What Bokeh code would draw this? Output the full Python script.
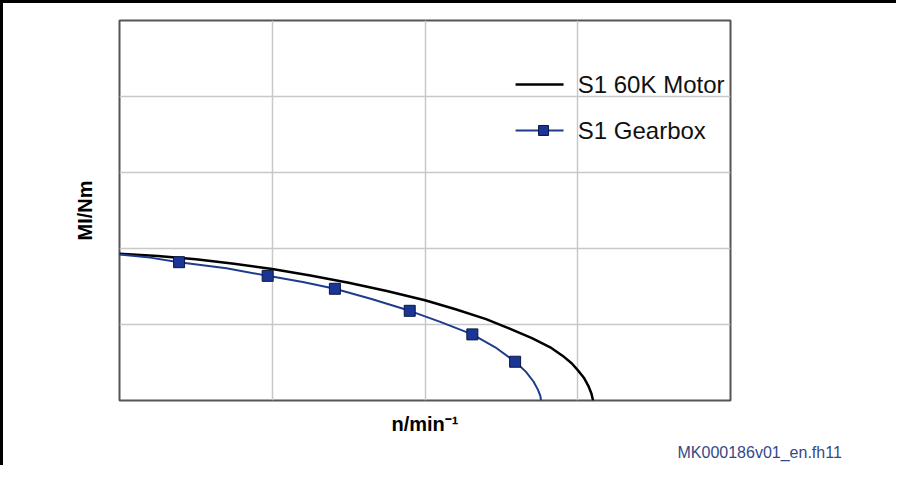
from bokeh.plotting import figure
from bokeh.models import Range1d, FixedTicker, Label, Title
from bokeh.embed import file_html
from bokeh.resources import INLINE

# S1 60K Motor curve (speed in grid units, torque in grid units)
motor_x = [0.0, 0.25, 0.5, 0.75, 1.0, 1.25, 1.5, 1.75, 2.0, 2.2, 2.4, 2.55, 2.7, 2.82,
           2.9, 2.96, 3.0, 3.04, 3.07, 3.09, 3.1]
motor_y = [1.93, 1.90, 1.86, 1.80, 1.73, 1.645, 1.55, 1.44, 1.32, 1.20, 1.07, 0.95, 0.82,
           0.70, 0.59, 0.49, 0.40, 0.30, 0.19, 0.09, 0.0]

# S1 Gearbox curve
gear_x = [0.0, 0.2, 0.39, 0.7, 0.97, 1.2, 1.41, 1.65, 1.90, 2.1, 2.31, 2.46, 2.59, 2.66,
          2.71, 2.74, 2.755, 2.76]
gear_y = [1.92, 1.88, 1.82, 1.74, 1.64, 1.56, 1.47, 1.335, 1.18, 1.035, 0.87, 0.70, 0.51,
          0.38, 0.25, 0.14, 0.06, 0.0]

# Gearbox markers
mark_x = [0.39, 0.97, 1.41, 1.90, 2.31, 2.59]
mark_y = [1.82, 1.64, 1.47, 1.18, 0.87, 0.51]

x_grid = [0, 1, 2, 3, 4]
y_grid = [0, 1, 2, 3, 4, 5]

legend_labels = ["S1 60K Motor", "S1 Gearbox"]
x_label = "n/min\u207b\u00b9"
y_label = "MI/Nm"
footer = "MK000186v01_en.fh11"

BLUE = "#1e3c8c"
FONT = "Liberation Sans"

p = figure(width=896, height=465, output_backend="svg", toolbar_location=None,
           x_range=Range1d(0, 4), y_range=Range1d(0, 5),
           min_border_left=116, min_border_right=169,
           min_border_top=17, min_border_bottom=68)
p.styles = {"border-top": "3px solid black", "border-left": "3px solid black"}

for ax in (p.xaxis[0], p.yaxis[0]):
    ax.ticker = FixedTicker(ticks=[])
    ax.axis_line_color = None
    ax.major_tick_line_color = None
    ax.minor_tick_line_color = None
    ax.major_tick_out = 0
    ax.major_tick_in = 0
    ax.minor_tick_out = 0
    ax.major_label_standoff = 0
    ax.axis_label_text_font = FONT
    ax.axis_label_text_font_size = "20px"
    ax.axis_label_text_font_style = "bold"
    ax.axis_label_text_color = "black"
p.yaxis.axis_label = y_label
p.yaxis.axis_label_standoff = 24
p.xaxis.axis_label = x_label
p.xaxis.axis_label_standoff = 12

p.xgrid.ticker = FixedTicker(ticks=x_grid)
p.ygrid.ticker = FixedTicker(ticks=y_grid)
for g in (p.xgrid, p.ygrid):
    g.grid_line_color = "#c8c8c8"
    g.grid_line_width = 1.5
p.outline_line_color = "#555555"
p.outline_line_width = 2
p.background_fill_color = "white"
p.border_fill_color = "white"

# footer
p.add_layout(Title(text=footer, align="left", offset=558, text_font=FONT,
                   text_font_size="16px", text_font_style="normal",
                   text_color="#35488a", standoff=8), "below")

# curves
p.line(motor_x, motor_y, line_color="black", line_width=2.5)
p.line(gear_x, gear_y, line_color=BLUE, line_width=2)
p.scatter(mark_x, mark_y, marker="square", size=11, fill_color="#1b3596",
          line_color="#0a1840", line_width=1)

# manual legend
p.line([2.593, 2.907], [4.158, 4.158], line_color="black", line_width=2.5)
p.line([2.593, 2.907], [3.553, 3.553], line_color=BLUE, line_width=2)
p.scatter([2.776], [3.553], marker="square", size=10, fill_color="#1b3596",
          line_color="#0a1840", line_width=1)
p.add_layout(Label(x=3.0, y=4.158, text=legend_labels[0], text_font=FONT,
                   text_font_size="24px", text_color="#111111",
                   text_baseline="middle", text_align="left"))
p.add_layout(Label(x=3.0, y=3.553, text=legend_labels[1], text_font=FONT,
                   text_font_size="24px", text_color="#111111",
                   text_baseline="middle", text_align="left"))

open("out.html", "w").write(file_html(p, INLINE))
